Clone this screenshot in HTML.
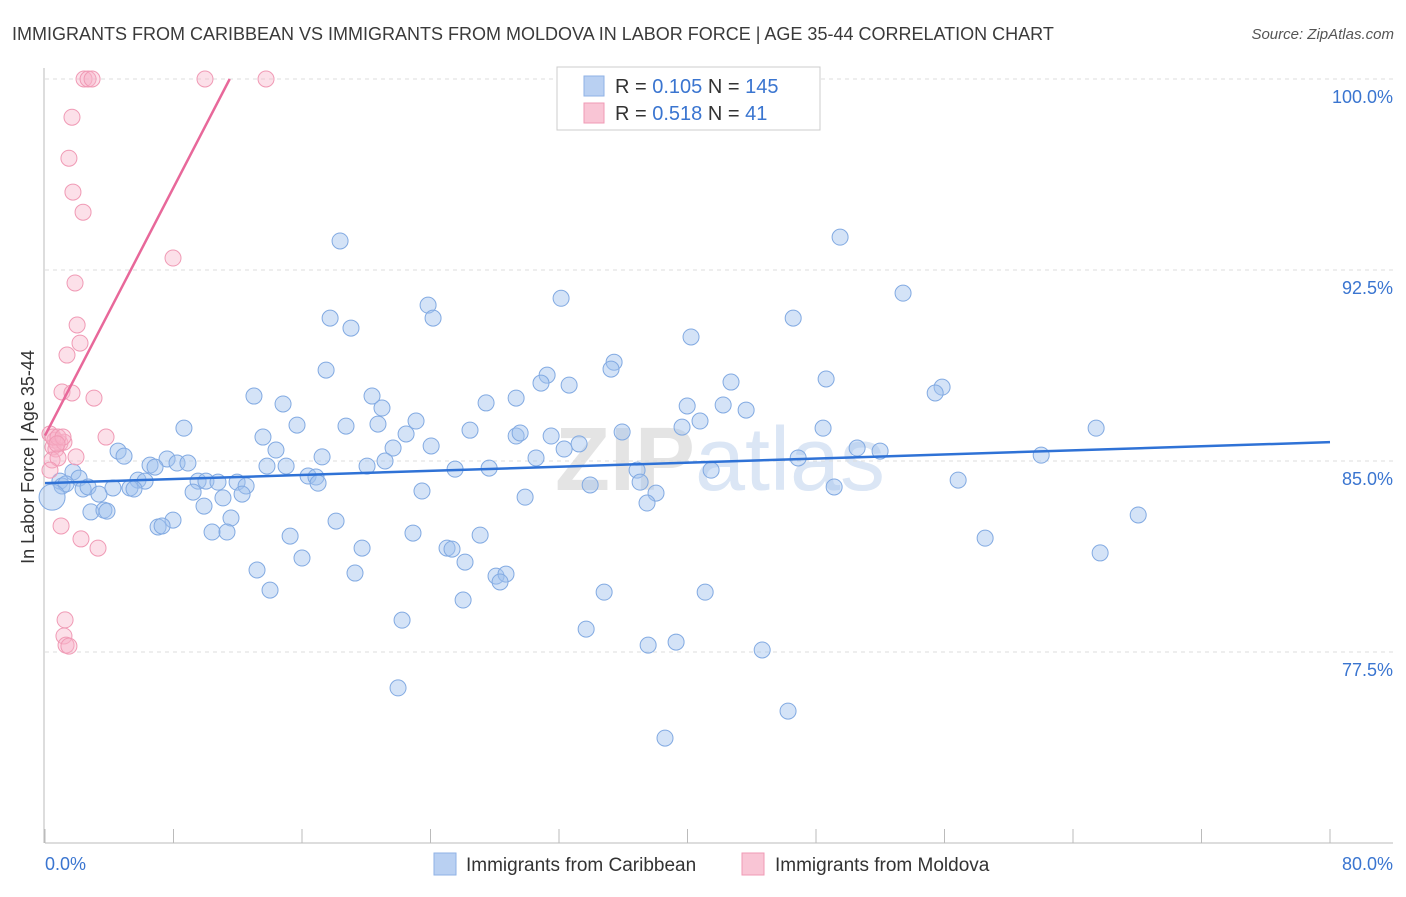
<!DOCTYPE html>
<html><head><meta charset="utf-8">
<style>
body{margin:0;background:#fff;font-family:"Liberation Sans",sans-serif;}
svg text{font-family:"Liberation Sans",sans-serif;}
</style></head>
<body>
<svg id="chart" width="1406" height="892" viewBox="0 0 1406 892" xmlns="http://www.w3.org/2000/svg">
<text x="12" y="40" font-size="18" fill="#3a3a3a">IMMIGRANTS FROM CARIBBEAN VS IMMIGRANTS FROM MOLDOVA IN LABOR FORCE | AGE 35-44 CORRELATION CHART</text>
<text x="1394" y="39" font-size="15" font-style="italic" fill="#555" text-anchor="end">Source: ZipAtlas.com</text>
<text x="720" y="490" font-size="90" fill="#e4e4e4" text-anchor="middle" font-family="Liberation Serif"><tspan font-weight="bold">ZIP</tspan><tspan fill="#dbe6f5" font-family="Liberation Sans">atlas</tspan></text>
<g id="grid"></g>
<g id="axes"></g>
<g id="pts"></g>
<g id="lines"></g>
<g>
<rect x="557" y="67" width="263" height="63" fill="#fff" stroke="#ccc"/>
<rect x="584" y="76" width="20" height="20" fill="#b9d0f2" stroke="#8fb2e6"/>
<text x="615" y="93" font-size="20" fill="#333">R = <tspan fill="#3a75d0">0.105</tspan>   N = <tspan fill="#3a75d0">145</tspan></text>
<rect x="584" y="103" width="20" height="20" fill="#f9c5d5" stroke="#f09ab5"/>
<text x="615" y="120" font-size="20" fill="#333">R = <tspan fill="#3a75d0">0.518</tspan>   N =    <tspan fill="#3a75d0">41</tspan></text>
</g>
<text transform="translate(34,457) rotate(-90)" font-size="18" fill="#333" text-anchor="middle">In Labor Force | Age 35-44</text>
<text x="45" y="870" font-size="18" fill="#3a75d0">0.0%</text>
<text x="1393" y="870" font-size="18" fill="#3a75d0" text-anchor="end">80.0%</text>
<g>
<rect x="434" y="853" width="22" height="22" fill="#b9d0f2" stroke="#8fb2e6"/>
<text x="466" y="871" font-size="19" fill="#333">Immigrants from Caribbean</text>
<rect x="742" y="853" width="22" height="22" fill="#f9c5d5" stroke="#f09ab5"/>
<text x="775" y="871" font-size="19" fill="#333">Immigrants from Moldova</text>
</g>
</svg>
<script>
const yTicks=[77.5,85.0,92.5,100.0];
const xTickVals=[0,8,16,24,32,40,48,56,64,72,80];
const blueX=[18.37,49.5,32.13,53.42,23.85,24.16,17.75,19.05,46.58,40.22,35.43,35.24,17.5,31.26,30.88,32.63,48.63,42.71,55.85,55.42,13.01,20.36,14.82,29.33,27.46,20.98,39.98,42.22,43.65,23.1,15.69,18.74,20.73,40.78,8.65,26.46,29.33,29.58,35.93,39.66,48.44,65.44,13.57,22.48,31.51,33.25,21.67,24.04,14.38,4.55,4.92,17.25,50.56,51.99,62.02,32.32,46.89,30.57,7.6,6.54,6.85,8.22,8.9,13.82,15.01,20.05,21.17,25.53,27.65,36.86,41.47,1.74,2.12,0.93,1.06,1.31,5.79,6.23,9.53,10.02,10.77,11.96,12.52,16.38,16.87,17.0,33.94,37.05,56.85,49.13,2.37,2.68,3.36,4.23,5.29,5.54,9.22,11.08,12.27,23.47,29.89,38.04,37.48,2.86,3.67,3.86,7.97,7.04,7.29,9.9,11.58,10.4,11.33,18.12,22.91,27.09,15.26,25.03,25.34,19.74,16.0,26.15,58.53,65.69,68.06,13.2,19.3,28.08,28.7,28.33,14.01,34.81,41.1,26.03,22.23,33.69,37.55,39.29,44.65,21.98,46.26,38.6,0.44];
const blueY=[93.64,93.79,91.39,91.59,91.12,90.61,90.61,90.22,90.61,89.87,88.88,88.61,88.57,88.37,88.06,87.98,88.22,88.1,87.9,87.67,87.55,87.55,87.24,87.47,87.28,87.08,87.16,87.2,87.0,86.57,86.41,86.37,86.45,86.57,86.29,86.21,85.98,86.1,86.14,86.33,86.29,86.29,85.94,86.06,85.98,85.67,85.51,85.59,85.43,85.39,85.19,85.16,85.51,85.39,85.23,85.47,85.12,85.12,85.08,84.84,84.76,84.92,84.92,84.8,84.8,84.8,85.0,84.68,84.72,84.64,84.64,84.57,84.33,84.21,84.02,84.1,84.25,84.21,84.21,84.21,84.17,84.17,84.02,84.41,84.37,84.13,84.06,84.17,84.25,83.98,83.9,83.98,83.7,83.94,83.94,83.9,83.78,83.55,83.7,83.82,83.58,83.74,83.35,83.0,83.07,83.03,82.68,82.41,82.45,83.23,82.76,82.21,82.21,82.64,82.17,82.09,82.05,81.58,81.54,81.58,81.19,81.03,81.97,81.39,82.88,80.72,80.6,80.48,80.56,80.25,79.93,79.85,79.85,79.54,78.75,78.4,77.77,77.89,77.58,76.09,75.18,74.12,83.58];
const pinkX=[2.43,2.68,2.93,9.96,13.76,1.68,1.49,1.74,2.37,7.97,1.87,2.0,2.18,1.37,1.06,1.68,3.05,0.31,0.62,0.93,0.5,0.68,1.18,3.8,1.93,0.44,0.81,0.31,1.0,2.24,3.3,1.25,1.18,1.31,1.49,0.5,0.81,1.12,0.75];
const pinkY=[100,100,100,100,100,98.5,96.89,95.56,94.77,92.97,91.99,90.34,89.63,89.16,87.71,87.67,87.47,86.06,85.82,85.7,85.55,85.47,85.74,85.94,85.16,85.04,85.12,84.64,82.45,81.94,81.58,78.76,78.13,77.77,77.73,85.94,85.94,85.94,85.67];
const blueTrend=[[0,84.13],[80,85.74]];
const pinkTrend=[[0,86.0],[11.5,100]];

const NS="http://www.w3.org/2000/svg";
function sx(v){return 45+v*(1330-45)/80;}
function sy(v){return 843-(v-70)*(843-79)/30;}
function mk(tag,attrs,parent){const e=document.createElementNS(NS,tag);for(const k in attrs)e.setAttribute(k,attrs[k]);parent.appendChild(e);return e;}
const grid=document.getElementById('grid'),axes=document.getElementById('axes'),pts=document.getElementById('pts'),lines=document.getElementById('lines');
for(const t of yTicks){
  const l=mk('line',{x1:45,x2:1393,y1:sy(t),y2:sy(t),stroke:'#ddd','stroke-dasharray':'4,4'},grid);
  
  
  const tx=mk('text',{x:1393,y:sy(t)+24,'font-size':18,fill:'#3a75d0','text-anchor':'end'},axes);
  tx.textContent=t.toFixed(1)+'%';
  
  
}
const ya=mk('line',{x1:44,x2:44,y1:68,y2:843,stroke:'#bbb'},axes);


const xa=mk('line',{x1:45,x2:1393,y1:843,y2:843,stroke:'#bbb'},axes);


for(const t of xTickVals){
  const l=mk('line',{x1:sx(t),x2:sx(t),y1:829,y2:843,stroke:'#bbb'},axes);
  
  
}
for(let i=0;i<blueX.length;i++){
  const big=(i===blueX.length-1);
  const c=mk('circle',{cx:sx(blueX[i]),cy:sy(blueY[i]),r:big?13:8,fill:'rgba(160,192,238,0.45)',stroke:'#82aae2','stroke-width':1},pts);
  
  
}
for(let i=0;i<pinkX.length;i++){
  const c=mk('circle',{cx:sx(pinkX[i]),cy:sy(pinkY[i]),r:8,fill:'rgba(248,178,200,0.4)',stroke:'#f09ab5','stroke-width':1},pts);
  
  
}
const bl=mk('line',{x1:sx(blueTrend[0][0]),y1:sy(blueTrend[0][1]),x2:sx(blueTrend[1][0]),y2:sy(blueTrend[1][1]),stroke:'#2f72d6','stroke-width':2.5},lines);


const pl=mk('line',{x1:sx(pinkTrend[0][0]),y1:sy(pinkTrend[0][1]),x2:sx(pinkTrend[1][0]),y2:sy(pinkTrend[1][1]),stroke:'#e8689a','stroke-width':2.5},lines);


</script>
</body></html>
